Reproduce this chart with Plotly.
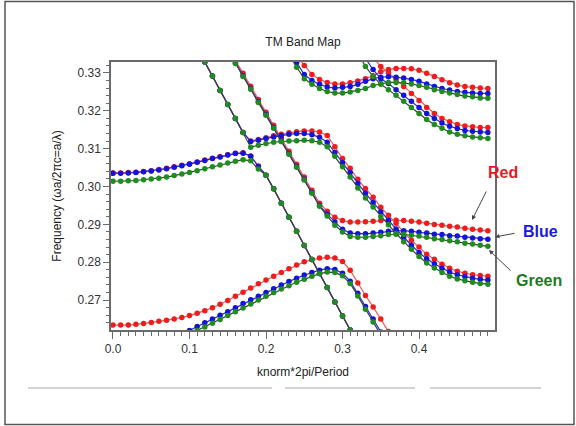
import plotly.graph_objects as go

# k grid (knorm*2pi/Period)
K = [0.00, 0.01, 0.02, 0.03, 0.04, 0.05, 0.06, 0.07, 0.08, 0.09,
     0.10, 0.11, 0.12, 0.13, 0.14, 0.15, 0.16, 0.17, 0.18, 0.19,
     0.20, 0.21, 0.22, 0.23, 0.24, 0.25, 0.26, 0.27, 0.28, 0.29,
     0.30, 0.31, 0.32, 0.33, 0.34, 0.35, 0.36, 0.37, 0.38, 0.39,
     0.40, 0.41, 0.42, 0.43, 0.44, 0.45, 0.46, 0.47, 0.48, 0.49]

X_TICKS = [0.0, 0.1, 0.2, 0.3, 0.4]
Y_TICKS = [0.27, 0.28, 0.29, 0.30, 0.31, 0.32, 0.33]

# ---- band 1 (lowest) : first k, values ----
RED_B1_K0 = 0.00
RED_B1 = [0.2634, 0.2634, 0.2634, 0.2636, 0.2638, 0.2641, 0.2644, 0.2647, 0.2650, 0.2654,
          0.2659, 0.2665, 0.2672, 0.2680, 0.2689, 0.2699, 0.2710, 0.2721, 0.2732, 0.2743,
          0.2753, 0.2763, 0.2773, 0.2783, 0.2793, 0.2801, 0.2807, 0.2811, 0.2813, 0.2811,
          0.2802, 0.2779, 0.2745, 0.2712, 0.2682, 0.2650, 0.2617]
BLUE_B1_K0 = 0.09
BLUE_B1 = [0.2610, 0.2620, 0.2630, 0.2640, 0.2650, 0.2660, 0.2669, 0.2680, 0.2691, 0.2701,
           0.2710, 0.2720, 0.2730, 0.2740, 0.2749, 0.2758, 0.2766, 0.2773, 0.2779, 0.2783,
           0.2781, 0.2771, 0.2750, 0.2718, 0.2683, 0.2650, 0.2616]
GREEN_B1_K0 = 0.10
GREEN_B1 = [0.2610, 0.2620, 0.2629, 0.2639, 0.2649, 0.2659, 0.2669, 0.2679, 0.2690, 0.2700,
            0.2710, 0.2720, 0.2729, 0.2738, 0.2747, 0.2755, 0.2763, 0.2770, 0.2774, 0.2773,
            0.2764, 0.2744, 0.2711, 0.2676, 0.2642, 0.2608]

# ---- band 2 (flat from k=0, then down the light line) ----
LIGHT1_LOW = [0.3030, 0.2994, 0.2956, 0.2919, 0.2882, 0.2844, 0.2807, 0.2770, 0.2733,
              0.2695, 0.2658, 0.2621, 0.2584]
RED_B2_K0 = 0.00
RED_B2 = [0.3036, 0.3036, 0.3037, 0.3038, 0.3040, 0.3042, 0.3045, 0.3048, 0.3052, 0.3056,
          0.3060, 0.3065, 0.3070, 0.3075, 0.3079, 0.3084, 0.3088, 0.3089, 0.3081, 0.3054] + LIGHT1_LOW
BLUE_B2_K0 = 0.00
BLUE_B2 = [0.3035, 0.3035, 0.3036, 0.3037, 0.3039, 0.3041, 0.3044, 0.3047, 0.3051, 0.3055,
           0.3059, 0.3064, 0.3069, 0.3074, 0.3078, 0.3083, 0.3087, 0.3088, 0.3080, 0.3053] + LIGHT1_LOW
GREEN_B2_K0 = 0.00
GREEN_B2 = [0.3014, 0.3014, 0.3015, 0.3016, 0.3018, 0.3020, 0.3022, 0.3025, 0.3029, 0.3033,
            0.3037, 0.3042, 0.3047, 0.3052, 0.3057, 0.3062, 0.3067, 0.3071, 0.3068, 0.3046] + LIGHT1_LOW

# ---- band 3 (second light line, then flat band labelled Red/Blue/Green) ----
RED_B3_K0 = 0.15
RED_B3 = [0.3368, 0.3333, 0.3299, 0.3265, 0.3230, 0.3196, 0.3162, 0.3127, 0.3093, 0.3059,
          0.3025, 0.2990, 0.2956,
          0.2935, 0.2919, 0.2910, 0.2906, 0.2906, 0.2907, 0.2908, 0.2910, 0.2911, 0.2911,
          0.2910, 0.2908, 0.2906, 0.2903, 0.2900, 0.2898, 0.2895, 0.2893, 0.2890, 0.2887,
          0.2885, 0.2883]
BLUE_B3_K0 = 0.15
BLUE_B3 = [0.3362, 0.3327, 0.3293, 0.3259, 0.3224, 0.3190, 0.3156, 0.3121, 0.3087, 0.3053,
           0.3019, 0.2984, 0.2950,
           0.2927, 0.2906, 0.2887, 0.2877, 0.2875, 0.2875, 0.2877, 0.2879, 0.2882, 0.2883,
           0.2883, 0.2882, 0.2879, 0.2877, 0.2874, 0.2873, 0.2870, 0.2869, 0.2866, 0.2864,
           0.2862, 0.2861]
GREEN_B3_K0 = 0.15
GREEN_B3 = [0.3360, 0.3325, 0.3291, 0.3257, 0.3222, 0.3188, 0.3154, 0.3119, 0.3085, 0.3051,
            0.3017, 0.2982, 0.2948,
            0.2922, 0.2898, 0.2880, 0.2868, 0.2866, 0.2866, 0.2868, 0.2870, 0.2873, 0.2874,
            0.2874, 0.2871, 0.2869, 0.2866, 0.2862, 0.2860, 0.2857, 0.2854, 0.2850, 0.2848,
            0.2845, 0.2842]

# ---- band 4 (light line, hump at 0.314, then down to 0.275) ----
LIGHT1_HIGH = [0.3366, 0.3329, 0.3292, 0.3254, 0.3217, 0.3180, 0.3143]
RED_B4_K0 = 0.11
RED_B4 = LIGHT1_HIGH + [0.3120, 0.3124, 0.3129, 0.3134, 0.3138, 0.3142, 0.3145, 0.3147, 0.3147,
                        0.3144, 0.3135,
                        0.3105, 0.3074, 0.3048, 0.3019, 0.2995, 0.2972, 0.2945, 0.2924, 0.2903,
                        0.2879, 0.2858, 0.2840, 0.2821, 0.2808, 0.2795, 0.2784, 0.2776, 0.2771,
                        0.2767, 0.2765, 0.2763]
BLUE_B4_K0 = 0.11
BLUE_B4 = LIGHT1_HIGH + [0.3119, 0.3122, 0.3127, 0.3131, 0.3135, 0.3138, 0.3140, 0.3140, 0.3137,
                         0.3130, 0.3117,
                         0.3090, 0.3063, 0.3037, 0.3008, 0.2982, 0.2958, 0.2933, 0.2911, 0.2888,
                         0.2866, 0.2845, 0.2826, 0.2809, 0.2796, 0.2784, 0.2774, 0.2767, 0.2762,
                         0.2758, 0.2755, 0.2753]
GREEN_B4_K0 = 0.11
GREEN_B4 = LIGHT1_HIGH + [0.3104, 0.3109, 0.3114, 0.3117, 0.3119, 0.3120, 0.3121, 0.3122, 0.3121,
                          0.3117, 0.3105,
                          0.3080, 0.3052, 0.3025, 0.2996, 0.2970, 0.2946, 0.2921, 0.2899, 0.2876,
                          0.2854, 0.2834, 0.2815, 0.2798, 0.2785, 0.2773, 0.2763, 0.2756, 0.2751,
                          0.2747, 0.2744, 0.2742]

# ---- band 5 (top, minimum near k=0.29) ----
RED_B5_K0 = 0.24
RED_B5 = [0.3345, 0.3320, 0.3296, 0.3283, 0.3275, 0.3271, 0.3271, 0.3274, 0.3279, 0.3285,
          0.3293, 0.3303, 0.3309, 0.3312, 0.3312, 0.3311, 0.3307, 0.3299, 0.3291, 0.3282,
          0.3274, 0.3268, 0.3264, 0.3262, 0.3260, 0.3259]
BLUE_B5_K0 = 0.23
BLUE_B5 = [0.3370, 0.3328, 0.3296, 0.3280, 0.3270, 0.3263, 0.3260, 0.3262, 0.3264, 0.3270,
           0.3278, 0.3285, 0.3289, 0.3290, 0.3289, 0.3287, 0.3283, 0.3278, 0.3271, 0.3264,
           0.3259, 0.3255, 0.3251, 0.3249, 0.3247, 0.3246, 0.3246]
GREEN_B5_K0 = 0.23
GREEN_B5 = [0.3350, 0.3315, 0.3285, 0.3270, 0.3259, 0.3251, 0.3247, 0.3247, 0.3250, 0.3254,
            0.3259, 0.3267, 0.3272, 0.3275, 0.3275, 0.3274, 0.3271, 0.3267, 0.3262, 0.3256,
            0.3251, 0.3247, 0.3243, 0.3239, 0.3237, 0.3234, 0.3233]

# ---- band 6 (coming down from the top right) ----
RED_B6_K0 = 0.34
RED_B6 = [0.3341, 0.3317, 0.3301, 0.3283, 0.3264, 0.3246, 0.3227, 0.3209, 0.3193, 0.3180,
          0.3171, 0.3164, 0.3160, 0.3158, 0.3156, 0.3156]
BLUE_B6_K0 = 0.33
BLUE_B6 = [0.3338, 0.3309, 0.3285, 0.3272, 0.3256, 0.3241, 0.3225, 0.3209, 0.3193, 0.3180,
           0.3168, 0.3159, 0.3153, 0.3148, 0.3146, 0.3144, 0.3143]
GREEN_B6_K0 = 0.32
GREEN_B6 = [0.3354, 0.3317, 0.3291, 0.3270, 0.3256, 0.3241, 0.3225, 0.3209, 0.3193, 0.3177,
            0.3164, 0.3154, 0.3144, 0.3138, 0.3134, 0.3131, 0.3129, 0.3127]

SERIES = [
    ("Red", [(RED_B1_K0, RED_B1), (RED_B2_K0, RED_B2), (RED_B3_K0, RED_B3),
             (RED_B4_K0, RED_B4), (RED_B5_K0, RED_B5), (RED_B6_K0, RED_B6)]),
    ("Blue", [(BLUE_B1_K0, BLUE_B1), (BLUE_B2_K0, BLUE_B2), (BLUE_B3_K0, BLUE_B3),
              (BLUE_B4_K0, BLUE_B4), (BLUE_B5_K0, BLUE_B5), (BLUE_B6_K0, BLUE_B6)]),
    ("Green", [(GREEN_B1_K0, GREEN_B1), (GREEN_B2_K0, GREEN_B2), (GREEN_B3_K0, GREEN_B3),
               (GREEN_B4_K0, GREEN_B4), (GREEN_B5_K0, GREEN_B5), (GREEN_B6_K0, GREEN_B6)]),
]

STYLE = {
    "Red": dict(line="#f05a5a", marker="#ee1c1c"),
    "Blue": dict(line="#2a2ae0", marker="#1414d8"),
    "Green": dict(line="#2e4a2e", marker="#1f8c1f"),
}

fig = go.Figure()
for name, bands in SERIES:
    for k0, vals in bands:
        i0 = K.index(k0)
        fig.add_trace(go.Scatter(
            x=K[i0:i0 + len(vals)], y=vals, mode="lines+markers", name=name,
            showlegend=False, hoverinfo="skip",
            line=dict(color=STYLE[name]["line"], width=1.2),
            marker=dict(color=STYLE[name]["marker"], size=5.5, line=dict(width=0)),
        ))

FONT = "Liberation Sans, Arial, sans-serif"
AX_COL = "#6a6a6a"

fig.update_layout(
    width=576, height=426,
    margin=dict(l=111, r=81, t=62, b=96),
    paper_bgcolor="white", plot_bgcolor="white",
    font=dict(family=FONT, size=12, color="#333333"),
    title=dict(text="TM Band Map", x=0.5, xref="paper", y=(426 - 42) / 426,
               yanchor="middle", xanchor="center",
               font=dict(family=FONT, size=12, color="#222222")),
    xaxis=dict(range=[-0.0026, 0.4993], tickmode="array", tickvals=X_TICKS,
               ticktext=["%.1f" % v for v in X_TICKS],
               ticks="outside", ticklen=7, tickwidth=1, tickcolor=AX_COL,
               minor=dict(dtick=0.01, tick0=0, ticks="outside", ticklen=4,
                          tickcolor=AX_COL, tickwidth=1),
               showgrid=False, zeroline=False, showline=True, linecolor=AX_COL,
               linewidth=1.5, mirror=True,
               tickfont=dict(size=12, color="#333333"),
               title=dict(text="knorm*2pi/Period", standoff=12,
                          font=dict(size=12, color="#222222"))),
    yaxis=dict(range=[0.2621, 0.3329], tickmode="array", tickvals=Y_TICKS,
               ticktext=["%.2f" % v for v in Y_TICKS],
               ticks="outside", ticklen=6, tickwidth=1, tickcolor=AX_COL,
               minor=dict(dtick=0.002, tick0=0.26, ticks="outside", ticklen=3,
                          tickcolor=AX_COL, tickwidth=1),
               showgrid=False, zeroline=False, showline=True, linecolor=AX_COL,
               linewidth=1.5, mirror=True,
               tickfont=dict(size=12, color="#333333"),
               title=dict(text="Frequency (ωa/2πc=a/λ)", standoff=13,
                          font=dict(size=12, color="#222222"))),
)

# helpers: pixel -> paper coordinates
def px(x):
    return (x - 111) / 384.0

def py(y):
    return (330 - y) / 268.0

LABELS = [
    ("Red", "#e8191f", 503, 172, 472, 220, 487, 190),
    ("Blue", "#1a1ae6", 540, 232, 495, 237, 516, 233),
    ("Green", "#1f7a1f", 539, 280, 489, 250, 512, 272),
]
for text, col, tx, ty, hx, hy, sx, sy in LABELS:
    fig.add_annotation(x=px(tx), y=py(ty), xref="paper", yref="paper", text="<b>%s</b>" % text,
                       showarrow=False, font=dict(family=FONT, size=16, color=col),
                       xanchor="center", yanchor="middle")
    fig.add_annotation(x=px(hx), y=py(hy), xref="paper", yref="paper", text="",
                       showarrow=True, ax=sx - hx, ay=sy - hy, axref="pixel", ayref="pixel",
                       arrowhead=2, arrowsize=0.9, arrowwidth=1, arrowcolor="#444444",
                       standoff=0, startstandoff=0)

# outer frame and faint separator lines
fig.add_shape(type="rect", xref="paper", yref="paper", x0=px(5), x1=px(574), y0=py(424.5), y1=py(1.5),
              line=dict(color="#555555", width=1.5), fillcolor="rgba(0,0,0,0)", layer="above")
for x0, x1 in [(28, 272), (285, 415), (430, 541)]:
    fig.add_shape(type="line", xref="paper", yref="paper", x0=px(x0), x1=px(x1), y0=py(388), y1=py(388),
                  line=dict(color="#d4d4d4", width=2))

fig.write_html("out.html", config={"displayModeBar": False},
               post_script="document.body.style.margin='0px';document.body.style.overflow='hidden';")
